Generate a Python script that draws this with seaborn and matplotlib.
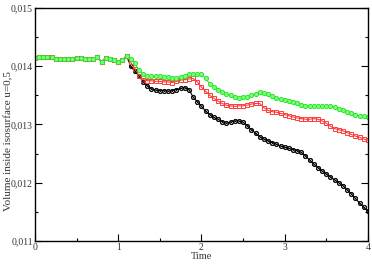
import numpy as np
import pandas as pd
import matplotlib
matplotlib.use("Agg")
import matplotlib.pyplot as plt
import seaborn as sns
from matplotlib.ticker import MultipleLocator, FuncFormatter

# time grid (dt = 0.05)
time = np.round(np.linspace(0.0, 4.0, 81), 2)

# shared part before the curves split (t = 0 .. 1.1)
common = [0.01414, 0.01415, 0.01416, 0.01416, 0.01415, 0.01413, 0.01412, 0.01412,
          0.01413, 0.01413, 0.01414, 0.01414, 0.01413, 0.01413, 0.01413, 0.01415,
          0.01408, 0.01414, 0.01413, 0.01410, 0.01408, 0.01410, 0.01418]

# t = 1.15 .. 4.0
black_tail = [0.01400, 0.01391, 0.01383, 0.01373, 0.01366, 0.01361, 0.01359, 0.01358,
              0.01358, 0.01357, 0.01358, 0.01360, 0.01362, 0.01363, 0.01360, 0.01347,
              0.01339, 0.01331, 0.01323, 0.01317, 0.01312, 0.01309, 0.01305, 0.01302,
              0.01304, 0.01306, 0.01306, 0.01304, 0.01298, 0.01291, 0.01285, 0.01279,
              0.01275, 0.01272, 0.01269, 0.01266, 0.01263, 0.01261, 0.01259, 0.01257,
              0.01255, 0.01252, 0.01246, 0.01239, 0.01232, 0.01226, 0.01220, 0.01215,
              0.01210, 0.01205, 0.01200, 0.01195, 0.01188, 0.01181, 0.01173, 0.01165,
              0.01158, 0.01151]
red_tail = [0.01407, 0.01396, 0.01384, 0.01377, 0.01375, 0.01375, 0.01374, 0.01374,
            0.01373, 0.01373, 0.01372, 0.01374, 0.01376, 0.01377, 0.01378, 0.01379,
            0.01373, 0.01364, 0.01357, 0.01350, 0.01345, 0.01340, 0.01336, 0.01333,
            0.01332, 0.01331, 0.01332, 0.01332, 0.01333, 0.01335, 0.01336, 0.01336,
            0.01329, 0.01324, 0.01322, 0.01321, 0.01319, 0.01317, 0.01315, 0.01313,
            0.01311, 0.01310, 0.01309, 0.01309, 0.01310, 0.01309, 0.01306, 0.01302,
            0.01297, 0.01293, 0.01291, 0.01289, 0.01286, 0.01283, 0.01280, 0.01278,
            0.01275, 0.01273]
green_tail = [0.01413, 0.01405, 0.01393, 0.01386, 0.01384, 0.01383, 0.01383, 0.01383,
              0.01382, 0.01381, 0.01380, 0.01380, 0.01382, 0.01384, 0.01386, 0.01387,
              0.01387, 0.01386, 0.01379, 0.01370, 0.01365, 0.01360, 0.01356, 0.01353,
              0.01350, 0.01347, 0.01346, 0.01347, 0.01348, 0.01350, 0.01353, 0.01355,
              0.01354, 0.01352, 0.01349, 0.01346, 0.01344, 0.01342, 0.01340, 0.01338,
              0.01336, 0.01334, 0.01332, 0.01331, 0.01332, 0.01332, 0.01331, 0.01331,
              0.01331, 0.01330, 0.01327, 0.01324, 0.01321, 0.01319, 0.01317, 0.01315,
              0.01314, 0.01313]

black = common + black_tail
red = common + red_tail
green = common + green_tail

sns.set_theme(style="white")
plt.rcParams["font.family"] = ["Liberation Serif", "DejaVu Serif"]

fig = plt.figure(figsize=(3.72, 2.64), dpi=100)
ax = fig.add_axes([0.094, 0.087, 0.895, 0.883])

styles = [
    (black, "black", "o", "none"),
    (red, "#ff3c3c", "s", "none"),
    (green, "#2ee62e", "o", "#7dff7d"),
]
for vals, col, mk, fc in styles:
    df = pd.DataFrame({"t": time, "v": vals})
    sns.lineplot(data=df, x="t", y="v", ax=ax, color=col, lw=0.8,
                 marker=mk, markersize=3.0, markerfacecolor=fc,
                 markeredgecolor=col, markeredgewidth=0.7)
# little cross lines inside the black circles
ax.plot(time[23:], black_tail, ls="none", marker="x", markersize=1.8,
        color="black", markeredgewidth=0.5)

ax.set_xlim(0, 4)
ax.set_ylim(0.011, 0.015)
ax.xaxis.set_major_locator(MultipleLocator(1))
ax.xaxis.set_minor_locator(MultipleLocator(0.5))
ax.yaxis.set_major_locator(MultipleLocator(0.001))
ax.yaxis.set_minor_locator(MultipleLocator(0.0005))
ax.yaxis.set_major_formatter(FuncFormatter(lambda v, p: f"{v:.3f}".replace(".", ",")))
ax.xaxis.set_major_formatter(FuncFormatter(lambda v, p: f"{v:.0f}"))
ax.tick_params(which="both", direction="in", top=False, right=True,
               bottom=True, left=True, labelsize=7, pad=1.5, color="black",
               width=0.8, labelcolor="#333333")
ax.tick_params(which="major", length=5)
ax.tick_params(which="minor", length=2.5)
for s in ax.spines.values():
    s.set_color("black")
    s.set_linewidth(1.0)

ax.set_xlabel("Time", fontsize=7.5, labelpad=0, color="#333333")
ax.set_ylabel("Volume inside isosurface u=0,5", fontsize=8, color="#333333")
ax.yaxis.set_label_coords(-0.066, 0.43)

fig.savefig("out.png", dpi=100)
